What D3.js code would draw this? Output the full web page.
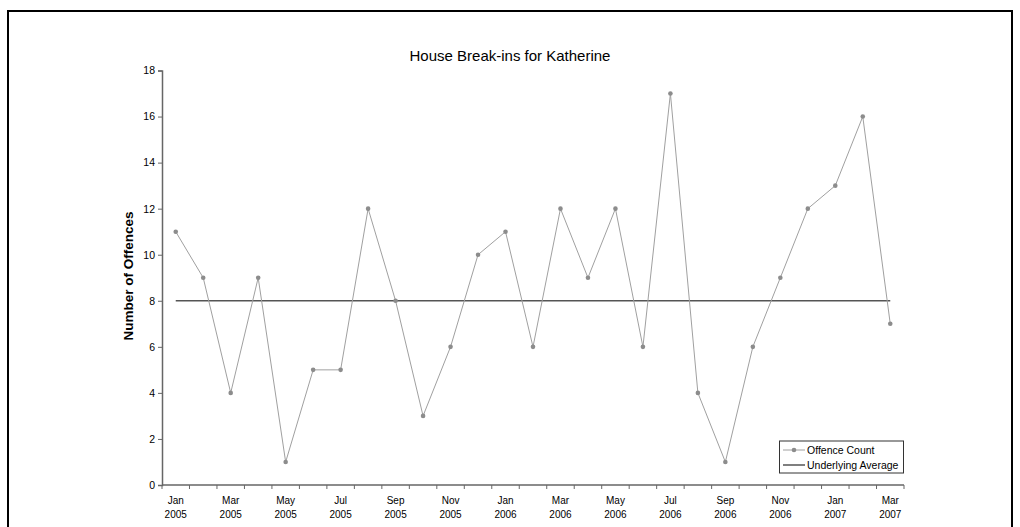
<!DOCTYPE html>
<html>
<head>
<meta charset="utf-8">
<script src="https://cdn.jsdelivr.net/npm/d3@7"></script>
<style>
  body { margin: 0; background: #fff; }
  text { font-family: "Liberation Sans", Arial, sans-serif; fill: #000; }
</style>
</head>
<body>
<div id="chart"></div>
<script>
let width = 1020;
let height = 527;

// monthly data, Jan 2005 .. Mar 2007
let months = ["Jan", "Feb", "Mar", "Apr", "May", "Jun", "Jul", "Aug", "Sep", "Oct", "Nov", "Dec",
  "Jan", "Feb", "Mar", "Apr", "May", "Jun", "Jul", "Aug", "Sep", "Oct", "Nov", "Dec",
  "Jan", "Feb", "Mar"];
let years = [2005, 2005, 2005, 2005, 2005, 2005, 2005, 2005, 2005, 2005, 2005, 2005,
  2006, 2006, 2006, 2006, 2006, 2006, 2006, 2006, 2006, 2006, 2006, 2006,
  2007, 2007, 2007];
let offence_count = [11, 9, 4, 9, 1, 5, 5, 12, 8, 3, 6, 10,
  11, 6, 12, 9, 12, 6, 17, 4, 1, 6, 9, 12,
  13, 16, 7];
let underlying_average = 8;
let y_ticks = [0, 2, 4, 6, 8, 10, 12, 14, 16, 18];

let keys = months.map((m, i) => m + " " + years[i]);

let margin = {left: 162, right: 116, top: 70.5, bottom: 42};

let svg = d3.select("#chart")
  .append("svg")
  .attr("width", width)
  .attr("height", height);

// outer frame
svg.append("rect")
  .attr("x", 8).attr("y", 11)
  .attr("width", 1004).attr("height", 540)
  .attr("fill", "none")
  .attr("stroke", "#000")
  .attr("stroke-width", 2);

let x = d3.scaleBand()
  .domain(keys)
  .range([margin.left, width - margin.right])
  .padding(0);

let y = d3.scaleLinear()
  .domain([0, 18])
  .range([485, margin.top]);

// y axis
let yAxis = svg.append("g")
  .attr("transform", "translate(" + margin.left + ",0)")
  .call(d3.axisLeft(y).tickValues(y_ticks).tickSize(4).tickPadding(3));
yAxis.select(".domain").attr("stroke", "#666").attr("stroke-width", 1.5);
yAxis.selectAll(".tick line").attr("stroke", "#666");
yAxis.selectAll("text").attr("font-size", "10.5px").attr("fill", "#000")
  .style("font-family", "Liberation Sans, Arial, sans-serif");

// x axis: ticks on band edges, labels every second month
let xg = svg.append("g");
let edges = keys.map(k => x(k)).concat([x.range()[1]]);
xg.append("line")
  .attr("x1", x.range()[0]).attr("x2", x.range()[1])
  .attr("y1", y(0)).attr("y2", y(0))
  .attr("stroke", "#666").attr("stroke-width", 1.5);
xg.selectAll("line.tick")
  .data(edges)
  .enter().append("line")
  .attr("class", "tick")
  .attr("x1", d => d).attr("x2", d => d)
  .attr("y1", y(0)).attr("y2", y(0) + 4)
  .attr("stroke", "#666");
let xl = xg.selectAll("text.lab")
  .data(keys.filter((k, i) => i % 2 === 0))
  .enter().append("text")
  .attr("class", "lab")
  .attr("text-anchor", "middle")
  .attr("font-size", "10px");
xl.append("tspan")
  .attr("x", d => x(d) + x.bandwidth() / 2)
  .attr("y", 504)
  .text(d => d.split(" ")[0]);
xl.append("tspan")
  .attr("x", d => x(d) + x.bandwidth() / 2)
  .attr("y", 518)
  .text(d => d.split(" ")[1]);

let cx = d => x(d) + x.bandwidth() / 2;

// underlying average
svg.append("line")
  .attr("x1", cx(keys[0]))
  .attr("x2", cx(keys[keys.length - 1]))
  .attr("y1", y(underlying_average))
  .attr("y2", y(underlying_average))
  .attr("stroke", "#555")
  .attr("stroke-width", 1.5);

// offence count line
let line = d3.line()
  .x((d, i) => cx(keys[i]))
  .y(d => y(d));
svg.append("path")
  .datum(offence_count)
  .attr("d", line)
  .attr("fill", "none")
  .attr("stroke", "#a0a0a0")
  .attr("stroke-width", 1);
svg.selectAll("circle.pt")
  .data(offence_count)
  .enter().append("circle")
  .attr("class", "pt")
  .attr("cx", (d, i) => cx(keys[i]))
  .attr("cy", d => y(d))
  .attr("r", 2.3)
  .attr("fill", "#8c8c8c");

// title
svg.append("text")
  .attr("x", 510).attr("y", 61)
  .attr("text-anchor", "middle")
  .attr("font-size", "15px")
  .text("House Break-ins for Katherine");

// y label
svg.append("text")
  .attr("transform", "translate(133,276) rotate(-90)")
  .attr("text-anchor", "middle")
  .attr("font-size", "13.5px")
  .attr("font-weight", "bold")
  .text("Number of Offences");

// legend
let lg = svg.append("g");
lg.append("rect")
  .attr("x", 779.5).attr("y", 441)
  .attr("width", 124).attr("height", 32)
  .attr("fill", "#fff").attr("stroke", "#333").attr("stroke-width", 1);
lg.append("line")
  .attr("x1", 783).attr("x2", 805).attr("y1", 450).attr("y2", 450)
  .attr("stroke", "#a0a0a0");
lg.append("circle")
  .attr("cx", 794).attr("cy", 450).attr("r", 2.3).attr("fill", "#8c8c8c");
lg.append("line")
  .attr("x1", 783).attr("x2", 805).attr("y1", 465).attr("y2", 465)
  .attr("stroke", "#555").attr("stroke-width", 1.5);
lg.append("text")
  .attr("x", 807).attr("y", 453.5)
  .attr("font-size", "10.5px")
  .text("Offence Count");
lg.append("text")
  .attr("x", 807).attr("y", 468.5)
  .attr("font-size", "10.5px")
  .text("Underlying Average");
</script>
</body>
</html>
